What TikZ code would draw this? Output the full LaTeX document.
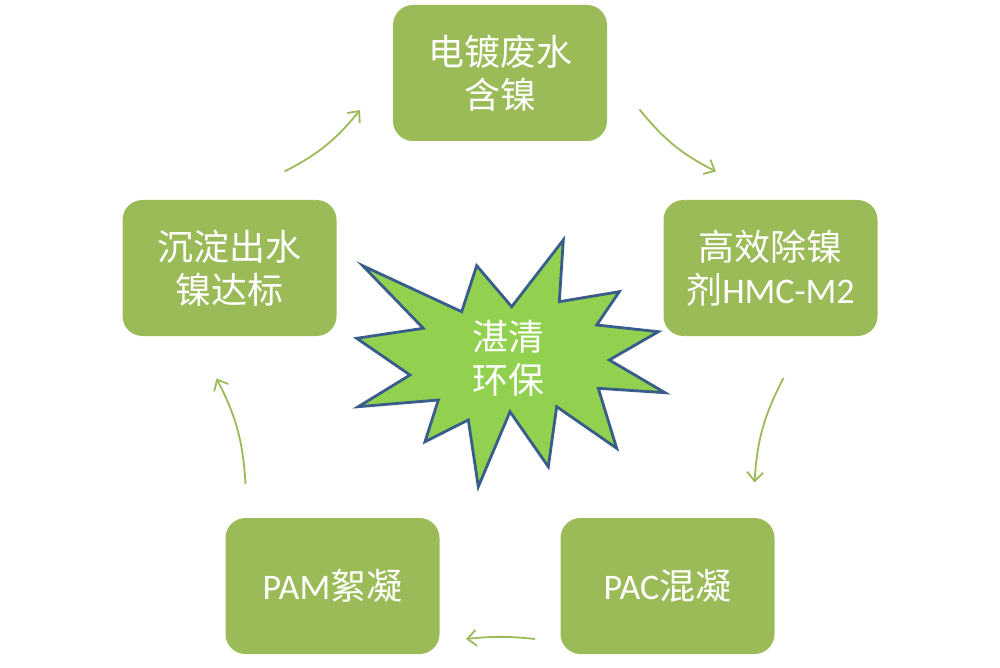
\documentclass[tikz,border=0pt]{standalone}
\usepackage{fontspec}
\setmainfont{Carlito}
\newfontfamily\cjk{Noto Sans CJK SC}
\usetikzlibrary{arrows.meta}
\definecolor{olive}{HTML}{9BBB59}
\definecolor{stargreen}{HTML}{92D050}
\definecolor{starblue}{HTML}{385D8A}
\tikzset{
  box/.style={fill=olive, rounded corners=20pt, minimum width=214pt, minimum height=136pt, inner sep=0pt, text=white, align=center, font=\fontsize{36}{43}\selectfont},
  cyc/.style={draw=olive, line width=1.8pt, -{Straight Barb[length=9pt,width=16pt,line width=1.8pt]}},
  startext/.style={text=white, align=center, font=\fontsize{36}{43}\selectfont\cjk}
}
\begin{document}
\begin{tikzpicture}[x=1pt,y=-1pt]
\path[use as bounding box] (0,0) rectangle (1000,668);
\node[box] (n1) at (500,73) {\cjk 电镀废水\\\cjk 含镍};
\node[box] (n2) at (770.5,268) {\cjk 高效除镍\\{\cjk 剂}HMC-M2};
\node[box] (n3) at (667.5,586) {PAC{\cjk 混凝}};
\node[box] (n4) at (332.5,586) {PAM{\cjk 絮凝}};
\node[box] (n5) at (229.5,268) {\cjk 沉淀出水\\\cjk 镍达标};
\draw[fill=stargreen, draw=starblue, line width=2.8pt, line join=miter]
 (362.7,265.7) -- (461.7,311.7) -- (476.7,265.7) -- (511.7,306.7) -- (563.3,240) -- (559.3,301.7)
 -- (619.3,291.7) -- (596.7,325) -- (658.3,331.7) -- (609.3,360) -- (665,392.7) -- (598.3,388.3)
 -- (616.7,448.3) -- (556.7,406.7) -- (548.3,466.7) -- (510,411.7) -- (478.3,486.7) -- (468.3,420)
 -- (425,441.7) -- (438.3,400) -- (358.3,406.7) -- (410,375) -- (356.7,338.3) -- (423.3,328.3) -- cycle;
\node[startext] (star) at (508,358) {湛清\\环保};
\coordinate (a1s) at (284.5,171.5); \coordinate (a1e) at (360,110);
\coordinate (a2s) at (639.5,109.5); \coordinate (a2e) at (716,171.5);
\coordinate (a3s) at (783.5,378); \coordinate (a3e) at (754.5,482.5);
\coordinate (a4s) at (535,639); \coordinate (a4e) at (466,639);
\coordinate (a5s) at (245.5,484); \coordinate (a5e) at (216.5,378.5);
\draw[cyc] (a1s) to[bend right=12] (a1e);
\draw[cyc] (a2s) to[bend right=12] (a2e);
\draw[cyc] (a3s) to[bend right=12] (a3e);
\draw[cyc] (a4s) to[bend right=6] (a4e);
\draw[cyc] (a5s) to[bend right=12] (a5e);
\end{tikzpicture}
\end{document}
